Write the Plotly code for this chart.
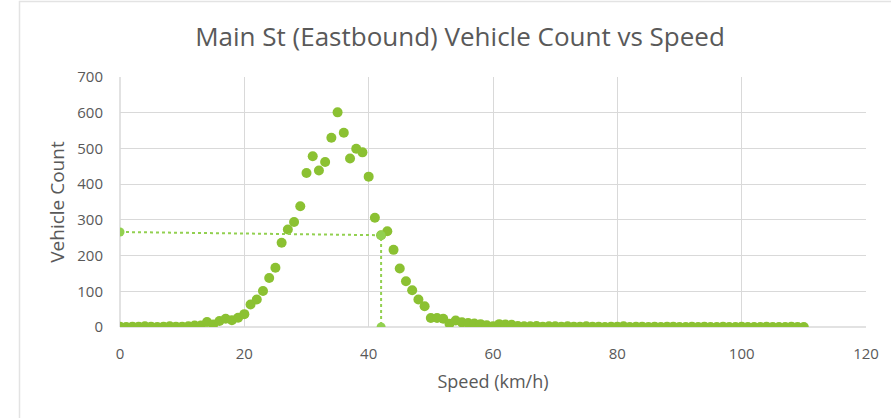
import plotly.graph_objects as go

# Vehicle counts observed per 1 km/h speed bin on Main St (Eastbound)
speeds = list(range(0, 111))
counts = [
    1, 0, 1, 1, 2, 1, 0, 1, 2, 1,
    1, 2, 4, 4, 14, 7, 17, 23, 19, 26,
    36, 63, 77, 101, 137, 166, 236, 273, 294, 338,
    431, 478, 438, 462, 530, 601, 544, 472, 499, 489,
    421, 306, 257, 268, 216, 164, 128, 103, 77, 58,
    25, 25, 23, 9, 18, 13, 11, 10, 8, 5,
    2, 8, 7, 6, 3, 2, 2, 3, 1, 2,
    2, 1, 2, 1, 1, 2, 1, 1, 0, 1,
    1, 2, 0, 1, 1, 0, 1, 0, 1, 1,
    0, 0, 1, 0, 1, 0, 0, 1, 0, 0,
    1, 0, 0, 0, 1, 0, 0, 0, 1, 0,
    0,
]

# Guide line marking the 42 km/h reading
guide_x = [0, 42, 42]
guide_y = [266, 257, 0]

x_ticks = [0, 20, 40, 60, 80, 100, 120]
y_ticks = [0, 100, 200, 300, 400, 500, 600, 700]

TEXT = "#595959"
GRID = "#d9d9d9"
FONT = "Open Sans"

fig = go.Figure()
fig.add_trace(go.Scatter(
    x=speeds, y=counts, mode="markers",
    marker=dict(size=10, color="#8bc132", line=dict(width=0)),
    showlegend=False, hoverinfo="x+y",
))
fig.add_trace(go.Scatter(
    x=guide_x, y=guide_y, mode="lines+markers",
    line=dict(color="#92d050", width=2, dash="dot"),
    marker=dict(size=9, color="#92d050"),
    showlegend=False,
))

L, R, T, B = 120, 25, 77, 91
W, H = 891, 418
pw, ph = W - L - R, H - T - B


def px_x(p):
    return (p - L) / pw


def px_y(p):
    return (H - B - p) / ph


fig.update_layout(
    width=W, height=H,
    margin=dict(l=L, r=R, t=T, b=B, pad=0),
    paper_bgcolor="white", plot_bgcolor="white",
    font=dict(family=FONT, color=TEXT, size=15),
    title=dict(
        text="Main St (Eastbound) Vehicle Count vs Speed",
        x=px_x(460), xref="paper", xanchor="center",
        y=1 - 37 / H, yanchor="middle",
        font=dict(size=26, color=TEXT, family=FONT),
    ),
    xaxis=dict(
        range=[0, 120], tickvals=x_ticks, showgrid=True, gridcolor=GRID,
        gridwidth=1, zeroline=False, showline=False, ticks="",
        tickfont=dict(size=15, color=TEXT), ticklabelstandoff=16,
        title=dict(text="Speed (km/h)", font=dict(size=18, color=TEXT), standoff=13),
        fixedrange=True,
    ),
    yaxis=dict(
        range=[0, 700], tickvals=y_ticks, showgrid=True, gridcolor=GRID,
        gridwidth=1, zeroline=False, showline=False, ticks="",
        tickfont=dict(size=15, color=TEXT), ticklabelstandoff=16,
        title=dict(text="Vehicle Count", font=dict(size=19, color=TEXT), standoff=7),
        fixedrange=True,
    ),
    shapes=[
        dict(type="line", xref="paper", yref="paper",
             x0=0, x1=1, y0=0, y1=0, line=dict(color=GRID, width=1.5), layer="below"),
        dict(type="line", xref="paper", yref="paper",
             x0=0, x1=0, y0=0, y1=1, line=dict(color=GRID, width=1.5), layer="below"),
        dict(type="rect", xref="paper", yref="paper",
             x0=px_x(19.5), x1=px_x(900), y0=px_y(430), y1=px_y(1.5),
             line=dict(color="#e3e3e3", width=1.5), fillcolor="rgba(0,0,0,0)"),
    ],
)

fig.write_html("out.html")
